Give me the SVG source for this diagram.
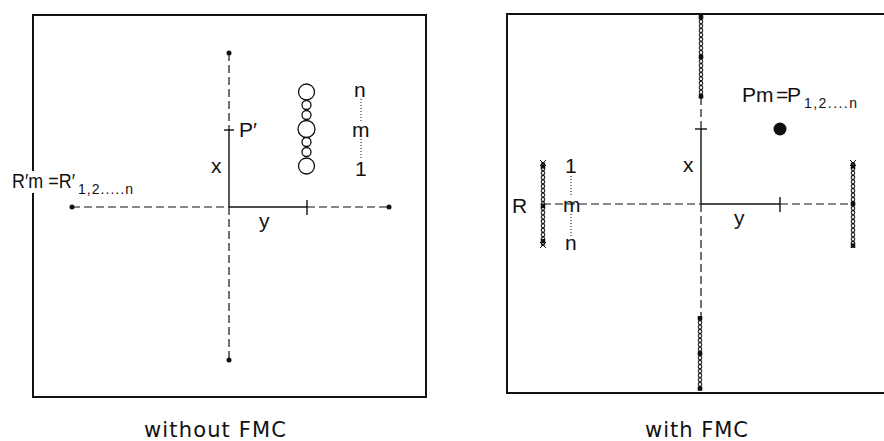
<svg xmlns="http://www.w3.org/2000/svg" width="884" height="441" viewBox="0 0 884 441">
  <style>
    .frame { fill: none; stroke: #111; stroke-width: 2; }
    .axis { fill: none; stroke: #111; stroke-width: 1.4; }
    .dash { fill: none; stroke: #111; stroke-width: 1.2; stroke-dasharray: 8 4; }
    .dot { fill: none; stroke: #111; stroke-width: 1; stroke-dasharray: 1 2; }
    .ring { fill: #fff; stroke: #111; stroke-width: 1.3; }
    .knot { fill: #111; }
    .xm { stroke: #111; stroke-width: 1; }
    text { font-family: "Liberation Sans", Arial, sans-serif; fill: #111; }
    .lbl { font-size: 21px; }
    .sub { font-size: 14px; }
    .cap { font-family: "DejaVu Sans", "Liberation Sans", sans-serif; font-size: 21px; }
  </style>
  <defs>
    <pattern id="chain" patternUnits="userSpaceOnUse" x="0" y="0" width="6" height="4.4">
      <ellipse cx="3" cy="2.2" rx="1.8" ry="1.9" fill="none" stroke="#111" stroke-width="1"/>
    </pattern>
  </defs>
  <rect width="884" height="441" fill="#fff"/>

  <!-- Left panel: without FMC -->
  <g id="frame-left">
    <path class="frame" d="M33,171 V15 H426 V397 H33 V193"/>
  </g>
  <g id="connectors-left">
    <line class="dash" x1="229" y1="53" x2="229" y2="130"/>
    <line class="dash" x1="229" y1="207" x2="229" y2="360"/>
    <line class="axis" x1="229" y1="130" x2="229" y2="207"/>
    <line class="dash" x1="72" y1="207" x2="229" y2="207"/>
    <line class="dash" x1="307" y1="207" x2="389" y2="207"/>
    <line class="axis" x1="229" y1="207" x2="307" y2="207"/>
    <line class="axis" x1="224" y1="130" x2="234" y2="130"/>
    <line class="axis" x1="307" y1="200" x2="307" y2="215"/>
    <line class="dot" x1="361" y1="99" x2="361" y2="122"/>
    <line class="dot" x1="361" y1="139" x2="361" y2="160"/>
  </g>
  <g id="endpoints-left">
    <circle class="knot" cx="229" cy="53" r="2.5"/>
    <circle class="knot" cx="229" cy="360" r="2.5"/>
    <circle class="knot" cx="72" cy="207" r="2.5"/>
    <circle class="knot" cx="389" cy="207" r="2.5"/>
  </g>
  <g id="circles-left">
    <circle class="ring" cx="306.5" cy="92" r="8"/>
    <circle class="ring" cx="306.5" cy="105" r="4.5"/>
    <circle class="ring" cx="306.5" cy="115" r="4.5"/>
    <circle class="ring" cx="306.5" cy="129" r="8.5"/>
    <circle class="ring" cx="306.5" cy="142" r="4.5"/>
    <circle class="ring" cx="306.5" cy="152" r="4.5"/>
    <circle class="ring" cx="306.5" cy="166" r="8"/>
  </g>
  <g id="labels-left">
    <text class="lbl" x="239" y="137">P′</text>
    <text class="lbl" x="211" y="173">x</text>
    <text class="lbl" x="259" y="228">y</text>
    <text class="lbl" x="354" y="97">n</text>
    <text class="lbl" x="352" y="137">m</text>
    <text class="lbl" x="355" y="176">1</text>
    <text class="lbl" x="12" y="188" font-size="18" textLength="63" lengthAdjust="spacingAndGlyphs">R′m =R′</text>
    <text class="sub" x="78" y="194" textLength="55" lengthAdjust="spacing">1,2.....n</text>
    <text class="cap" x="144" y="437" textLength="142" lengthAdjust="spacing">without FMC</text>
  </g>

  <!-- Right panel: with FMC -->
  <g id="frame-right">
    <path class="frame" d="M884,14 H507 V393 H884"/>
  </g>
  <g id="connectors-right">
    <line class="dash" x1="701" y1="97" x2="701" y2="129"/>
    <line class="axis" x1="701" y1="129" x2="701" y2="204"/>
    <line class="dash" x1="701" y1="204" x2="701" y2="318"/>
    <line class="dash" x1="543" y1="204" x2="701" y2="204"/>
    <line class="axis" x1="701" y1="204" x2="780" y2="204"/>
    <line class="dash" x1="780" y1="204" x2="853" y2="204"/>
    <line class="axis" x1="695" y1="129" x2="707" y2="129"/>
    <line class="axis" x1="780" y1="197" x2="780" y2="212"/>
    <line class="dot" x1="571" y1="176" x2="571" y2="197"/>
    <line class="dot" x1="571" y1="214" x2="571" y2="236"/>
  </g>
  <g id="chain-top" transform="translate(698,15)">
    <rect x="0" y="0" width="6" height="83" fill="url(#chain)"/>
    <rect class="knot" x="0.8" y="0" width="4.4" height="4.4"/>
    <rect class="knot" x="0.8" y="39.6" width="4.4" height="4.4"/>
    <rect class="knot" x="0.8" y="79.2" width="4.4" height="4.4"/>
  </g>
  <g id="chain-bottom" transform="translate(697,316)">
    <rect x="0" y="0" width="6" height="74" fill="url(#chain)"/>
    <rect class="knot" x="0.8" y="0" width="4.4" height="4.4"/>
    <rect class="knot" x="0.8" y="35.2" width="4.4" height="4.4"/>
    <rect class="knot" x="0.8" y="70.4" width="4.4" height="4.4"/>
  </g>
  <g id="chain-left" transform="translate(540,162)">
    <rect x="0" y="0" width="6" height="84" fill="url(#chain)"/>
    <path class="xm" d="M0,-2 L6,4 M6,-2 L0,4 M0,80 L6,86 M6,80 L0,86"/>
    <rect class="knot" x="0.8" y="2.2" width="4.4" height="4.4"/>
    <rect class="knot" x="0.8" y="41.8" width="4.4" height="4.4"/>
    <rect class="knot" x="0.8" y="77" width="4.4" height="4.4"/>
  </g>
  <g id="chain-right" transform="translate(850,162)">
    <rect x="0" y="0" width="6" height="86" fill="url(#chain)"/>
    <path class="xm" d="M0,-2 L6,4 M6,-2 L0,4"/>
    <rect class="knot" x="0.8" y="2.2" width="4.4" height="4.4"/>
    <rect class="knot" x="0.8" y="39.6" width="4.4" height="4.4"/>
    <rect class="knot" x="0.8" y="81.4" width="4.4" height="4.4"/>
  </g>
  <g id="point-P">
    <circle class="knot" cx="780" cy="129" r="6.5"/>
  </g>
  <g id="labels-right">
    <text class="lbl" x="742" y="102">Pm<tspan x="776">=</tspan><tspan x="787">P</tspan></text>
    <text class="sub" x="804" y="108" textLength="53" lengthAdjust="spacing">1,2....n</text>
    <text class="lbl" x="683" y="172">x</text>
    <text class="lbl" x="734" y="225">y</text>
    <text class="lbl" x="565" y="173">1</text>
    <text class="lbl" x="563" y="212">m</text>
    <text class="lbl" x="565" y="250">n</text>
    <text class="lbl" x="512" y="213">R</text>
    <text class="cap" x="645" y="437" textLength="103" lengthAdjust="spacing">with FMC</text>
  </g>
</svg>
